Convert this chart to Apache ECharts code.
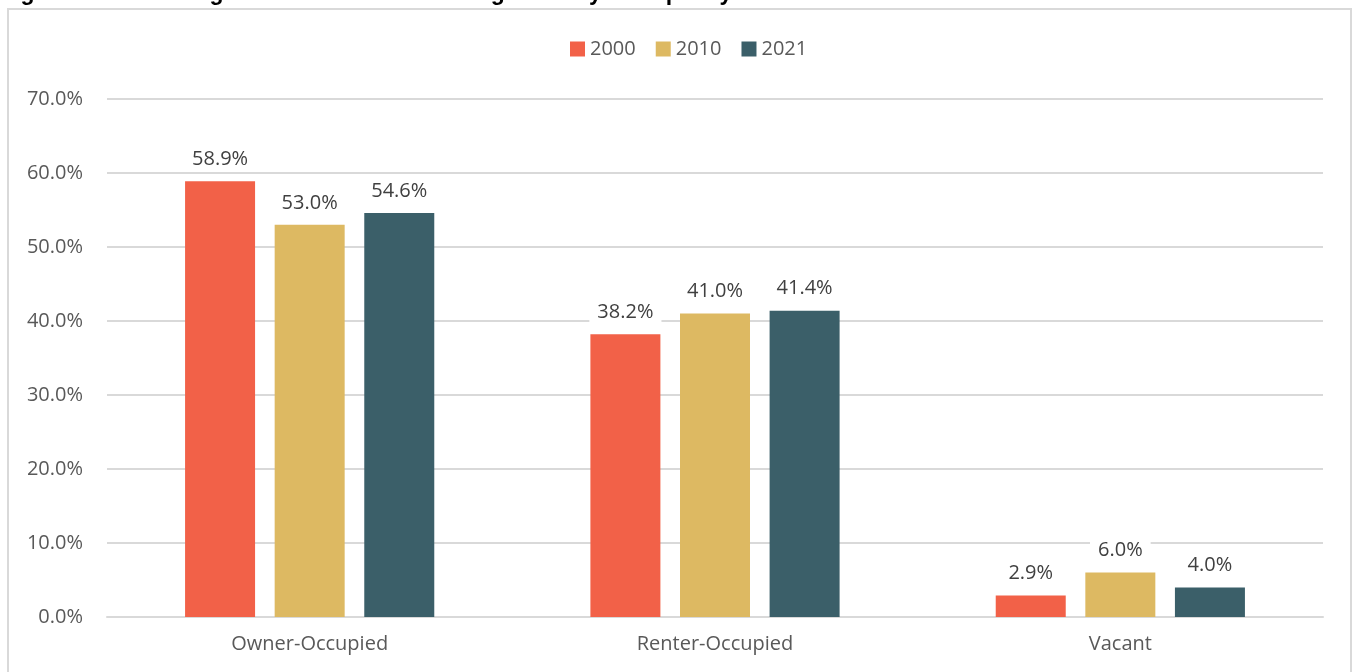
<!DOCTYPE html>
<html><head><meta charset="utf-8">
<script src="https://cdn.jsdelivr.net/npm/echarts@6/dist/echarts.min.js"></script>
<style>html,body{margin:0;padding:0;background:#fff}#c{width:1354px;height:672px}</style>
</head><body><div id="c"></div>
<script>
const categories = ['Owner-Occupied', 'Renter-Occupied', 'Vacant'];
const seriesNames = ['2000', '2010', '2021'];
const v2000 = [58.9, 38.2, 2.9];
const v2010 = [53.0, 41.0, 6.0];
const v2021 = [54.6, 41.4, 4.0];
const colors = ['#F26148', '#DDB962', '#3B5F69'];
const titleText = 'Figure 16: SRCS High School District Housing Units by Occupancy';

const FONT = 'Open Sans';
const chart = echarts.init(document.getElementById('c'));
const data = [v2000, v2010, v2021];
chart.setOption({
  animation: false,
  textStyle: { fontFamily: FONT },
  graphic: [
    { type: 'rect', shape: { x: 8, y: 9, width: 1343, height: 680 }, style: { fill: 'none', stroke: '#D9D9D9', lineWidth: 2 } },
    { type: 'text', left: 0, top: -18, style: { text: titleText, font: 'bold 23px "Liberation Sans"', fill: '#000' } }
  ],
  legend: {
    top: 34, left: 565, itemWidth: 15, itemHeight: 15, itemGap: 20,
    icon: 'rect',
    textStyle: { fontSize: 20, color: '#595959', fontFamily: FONT },
    data: seriesNames
  },
  grid: { left: 107, right: 31, top: 99, bottom: 55, containLabel: false },
  xAxis: {
    type: 'category', data: categories,
    axisLine: { lineStyle: { color: '#D9D9D9', width: 2 } },
    axisTick: { show: false },
    axisLabel: { fontSize: 20, color: '#595959', margin: 17, fontFamily: FONT }
  },
  yAxis: {
    type: 'value', min: 0, max: 70, interval: 10,
    axisLine: { show: false }, axisTick: { show: false },
    splitLine: { lineStyle: { color: '#D9D9D9', width: 2 } },
    axisLabel: { fontSize: 20, color: '#595959', margin: 24, fontFamily: FONT, formatter: v => v.toFixed(1) + '%' }
  },
  series: seriesNames.map((n, i) => ({
    name: n, type: 'bar', data: data[i], barWidth: 70, barGap: '28%',
    itemStyle: { color: colors[i] },
    label: {
      show: true, position: 'top', distance: 10, fontSize: 20, color: '#404040', fontFamily: FONT,
      backgroundColor: '#fff', padding: [2, 8],
      formatter: p => p.value.toFixed(1) + '%'
    }
  }))
});
</script></body></html>
